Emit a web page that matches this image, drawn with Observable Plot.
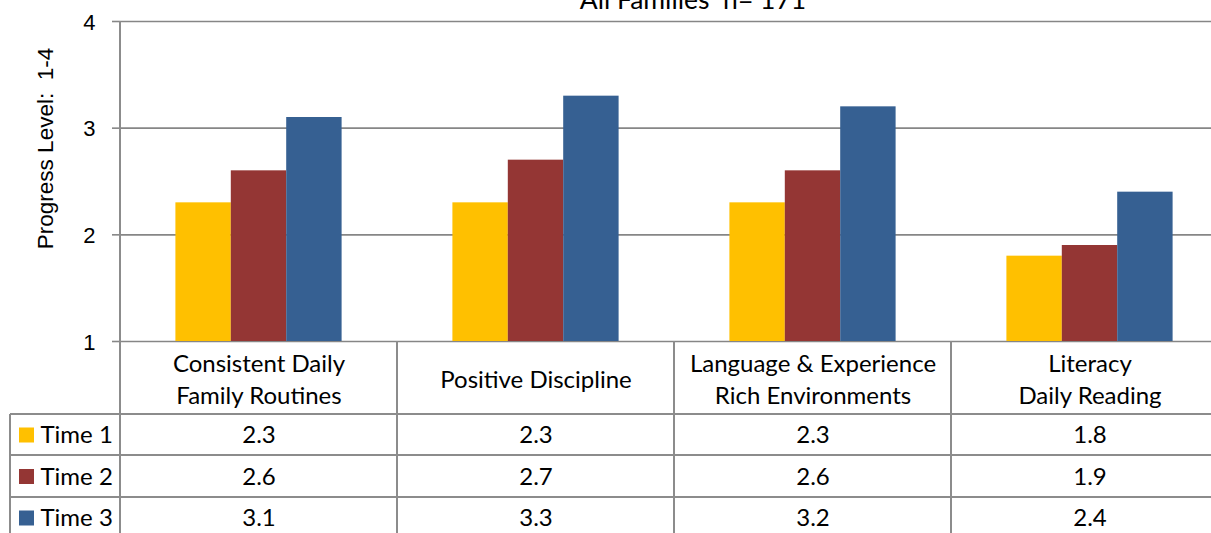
<!DOCTYPE html>
<html><head><meta charset="utf-8">
<script src="https://cdn.jsdelivr.net/npm/d3@7"></script>
<script src="https://cdn.jsdelivr.net/npm/@observablehq/plot@0.6"></script>
<style>html,body{margin:0;padding:0;background:#fff;overflow:hidden}svg{display:block}</style>
</head><body><div id="chart"></div>
<script>
const title = "All Families  n= 171";
const yLabel = "Progress Level:  1-4";
const categories = ["Consistent Daily\nFamily Routines", "Positive Discipline", "Language & Experience\nRich Environments", "Literacy\nDaily Reading"];
const series = ["Time 1", "Time 2", "Time 3"];
const time1 = [2.3, 2.3, 2.3, 1.8];
const time2 = [2.6, 2.7, 2.6, 1.9];
const time3 = [3.1, 3.3, 3.2, 2.4];
const colors = ["#FFC000", "#943634", "#366092"];
const yTicks = [1, 2, 3, 4];

const values = [time1, time2, time3];
const rows = series.map((s, i) => categories.map((c, j) => ({category: c, series: s, value: values[i][j]})));

const W = 1211, H = 533;
const mL = 120, mT = 21, mB = 192;
const xRange = [120, 1228];
const step = (xRange[1] - xRange[0]) / categories.length;
const lineColor = "#8c8c8c";
const catFont = "Lato, 'Open Sans', sans-serif";
const axFont = "'Liberation Sans', Arial, sans-serif";
const fs = 24;
const rowDy = [94, 135.5, 177];

const marks = [
  Plot.gridY(yTicks, {stroke: "#868686", strokeOpacity: 1, strokeWidth: 1.6}),
  ...series.map((s, i) => Plot.barY(rows[i], {
    x: "category", y1: 1, y2: "value", fill: colors[i],
    insetLeft: step * (0.2 + 0.2 * i), insetRight: step * (0.6 - 0.2 * i)
  })),
  Plot.axisY(yTicks, {tickSize: 8, tickPadding: 16, stroke: "#868686", strokeWidth: 1.6, label: null, tickFormat: () => ""}),
  Plot.text(yTicks, {y: d => d, text: d => String(d), frameAnchor: "left", textAnchor: "end", lineAnchor: "middle", dx: -25, dy: 1, fontSize: 22, fontFamily: axFont, fill: "#000"}),
  Plot.text(categories, {x: d => d, text: d => d, frameAnchor: "bottom", lineAnchor: "middle", dy: 36, lineHeight: 1.35, fontSize: fs, fontFamily: catFont, fill: "#000"}),
  ...series.map((s, i) => Plot.text(rows[i], {x: "category", text: d => d.value.toFixed(1), frameAnchor: "bottom", lineAnchor: "middle", dy: rowDy[i], fontSize: fs, fontFamily: catFont, fill: "#000"})),
  ...series.map((s, i) => Plot.text([s], {text: d => d, frameAnchor: "bottom-left", lineAnchor: "middle", dx: -80, dy: rowDy[i], textAnchor: "start", fontSize: fs, fontFamily: catFont, fill: "#000"})),
  Plot.text([title], {text: d => d, frameAnchor: "top", dx: 27, dy: -13, lineAnchor: "bottom", fontSize: 26.5, fontFamily: catFont, fill: "#000"}),
  Plot.text([yLabel], {text: d => d, frameAnchor: "left", textAnchor: "middle", lineAnchor: "middle", dx: -75, dy: -33, rotate: -90, fontSize: 22.5, fontFamily: axFont, fill: "#000"})
];

const plot = Plot.plot({
  width: W, height: H,
  marginLeft: mL, marginRight: 0, marginTop: mT, marginBottom: mB,
  style: {background: "white", fontFamily: catFont, overflow: "visible"},
  x: {domain: categories, range: xRange, padding: 0, axis: null},
  y: {domain: [1, 4], axis: null},
  marks
});
document.getElementById("chart").appendChild(plot);

// Data table grid, positioned from the plot's own scales
const sx = plot.scale("x"), sy = plot.scale("y");
const y0 = sy.apply(1);
const svg = d3.select(plot);
const g = svg.append("g").attr("stroke", lineColor).attr("stroke-width", 2).attr("fill", "none");
const rowLines = [73, 114, 156].map(o => y0 + o);
categories.forEach(c => {
  const xl = sx.apply(c);
  g.append("line").attr("x1", xl).attr("x2", xl).attr("y1", c === categories[0] ? sy.apply(4) : y0).attr("y2", H);
});
g.append("line").attr("x1", 10).attr("x2", 10).attr("y1", rowLines[0]).attr("y2", H);
rowLines.forEach(y => g.append("line").attr("x1", 10).attr("x2", W).attr("y1", y).attr("y2", y));
// legend swatches
series.forEach((s, i) => {
  const cy = y0 + rowDy[i];
  svg.append("rect").attr("x", 19).attr("y", cy - 7.5).attr("width", 15).attr("height", 15).attr("fill", colors[i]);
});
</script></body></html>
